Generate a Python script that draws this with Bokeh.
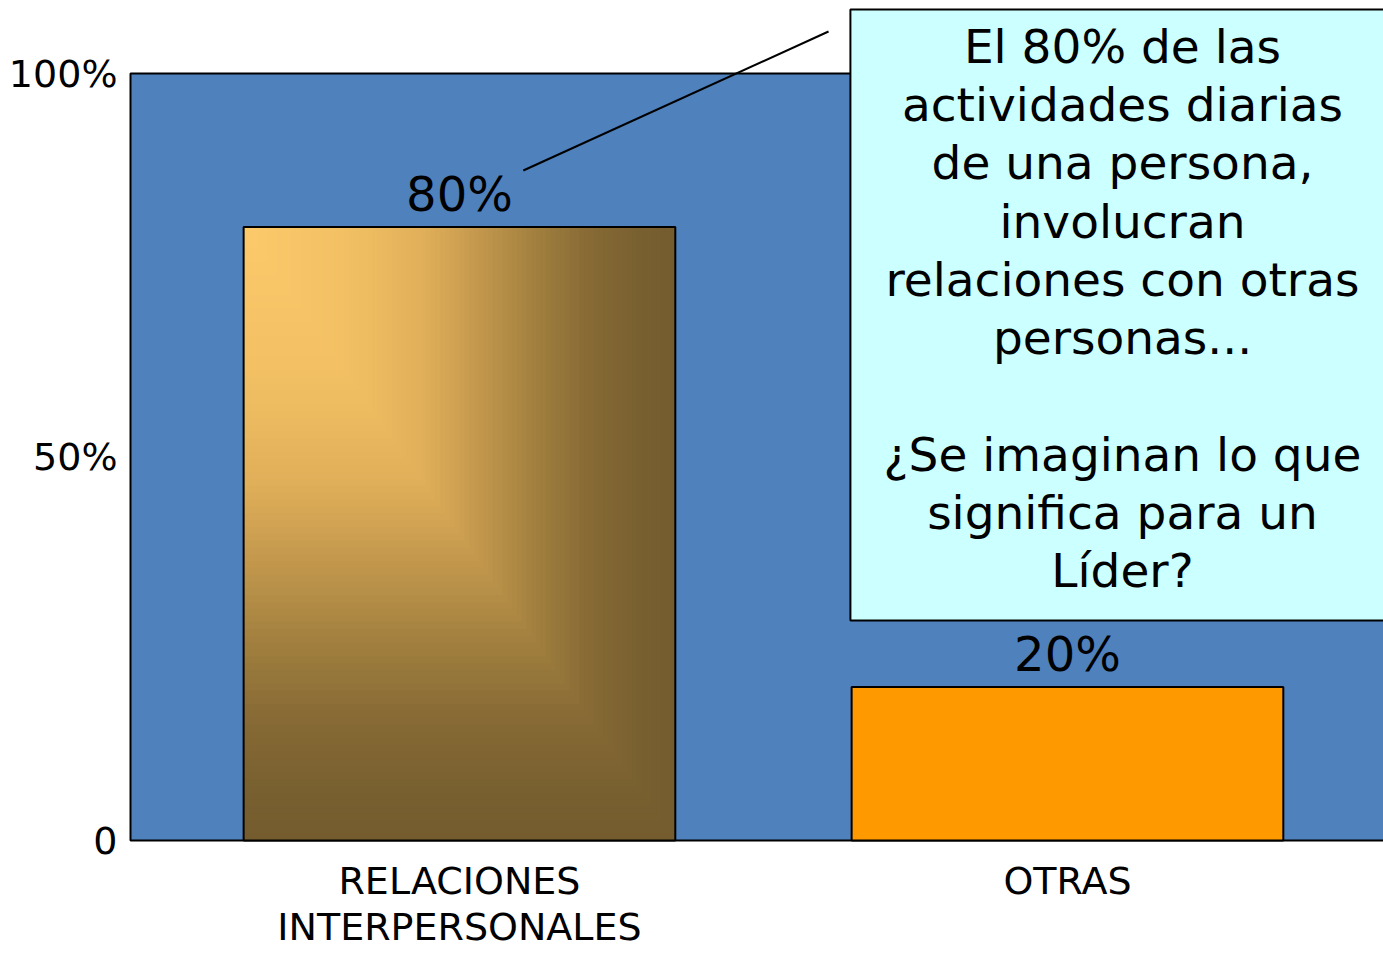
from bokeh.plotting import figure
from bokeh.models import FixedTicker, Range1d
from bokeh.core.properties import value
from bokeh.embed import file_html
from bokeh.resources import INLINE

# ---------------- data ----------------
categories = ["RELACIONES\nINTERPERSONALES", "OTRAS"]
shares = [0.80, 0.20]
bar_labels = ["80%", "20%"]
y_ticks = [0, 0.5, 1.0]
y_tick_labels = ["0", "50%", "100%"]
callout_lines = [
    "El 80% de las",
    "actividades diarias",
    "de una persona,",
    "involucran",
    "relaciones con otras",
    "personas...",
    "",
    "¿Se imaginan lo que",
    "significa para un",
    "Líder?",
]

# ---------------- layout / style ----------------
FONT = "DejaVu Sans"
W, H = 1383, 953
BL, BB = 127, 110               # left / bottom borders
FRAME_W, FRAME_H = W - BL, H - BB
PX_X, PX_Y = 608.0, 767.0       # pixels per category step / per 100 %
x0 = -0.546
x1 = x0 + FRAME_W / PX_X
y0 = -3.0 / PX_Y
y1 = y0 + FRAME_H / PX_Y
BAR_W = 0.71
BLUE = "#4F81BD"
ORANGE = "#FF9900"
CYAN = "#CCFFFF"

p = figure(width=W, height=H, x_range=Range1d(x0, x1), y_range=Range1d(y0, y1),
           output_backend="svg", toolbar_location=None,
           min_border_left=BL, min_border_right=0, min_border_top=0, min_border_bottom=BB)
p.background_fill_color = "white"
p.border_fill_color = "white"
p.outline_line_color = None
p.grid.visible = False

# plot area (blue wall with black border)
area_left = x0 + 3.0 / PX_X
p.quad(left=[area_left], right=[x1 + 1], bottom=[0], top=[1.0],
       fill_color=BLUE, line_color="black", line_width=2)

xs = list(range(len(categories)))

# bar 1: corner gradient built from nested rectangles anchored at the top-left corner
stops = [(0.0, (252, 202, 106)), (0.25, (242, 192, 99)), (0.42, (225, 175, 89)),
         (0.55, (195, 152, 77)), (0.68, (162, 128, 63)), (0.8, (136, 107, 53)),
         (0.92, (121, 96, 48)), (1.0, (116, 92, 47))]


def grad_color(t):
    for (ta, ca), (tb, cb) in zip(stops[:-1], stops[1:]):
        if t <= tb:
            f = (t - ta) / (tb - ta) if tb > ta else 0
            c = [int(round(a + (b - a) * f)) for a, b in zip(ca, cb)]
            return "#%02x%02x%02x" % tuple(c)
    return "#%02x%02x%02x" % stops[-1][1]


N = 90
bx, bh = xs[0], shares[0]
gl, gr, gt = [], [], []
gb, gc = [], []
for k in range(N, 0, -1):
    t = k / N
    gl.append(bx - BAR_W / 2)
    gr.append(bx - BAR_W / 2 + BAR_W * t)
    gt.append(bh)
    gb.append(bh - bh * t)
    gc.append(grad_color(t))
p.quad(left=gl, right=gr, top=gt, bottom=gb, fill_color=gc, line_color=None)

# bar 2 solid orange, bar outlines
p.vbar(x=[xs[1]], top=[shares[1]], bottom=0, width=BAR_W, fill_color=ORANGE,
       line_color="black", line_width=2)
p.vbar(x=[xs[0]], top=[shares[0]], bottom=0, width=BAR_W, fill_color=None,
       line_color="black", line_width=2)

# value labels
p.text(x=xs, y=shares, text=bar_labels, text_font=value(FONT), text_font_size="48px",
       text_align="center", text_baseline="middle", y_offset=-33, text_color="black")

# callout leader line
p.segment(x0=[0.105], y0=[0.8735], x1=[0.607], y1=[1.0548], line_color="black", line_width=2)

# callout box
p.quad(left=[0.643], right=[x1 + 1], bottom=[0.2868], top=[1.0834],
       fill_color=CYAN, line_color="black", line_width=2)
p.text(x=[1.0905], y=[0.6936], text=["\n".join(callout_lines)], text_font=value(FONT),
       text_font_size="47px", text_align="center", text_baseline="middle",
       text_line_height=1.06, text_color="black")

# axes
p.yaxis.ticker = FixedTicker(ticks=y_ticks)
p.yaxis.major_label_overrides = {t: s for t, s in zip(y_ticks, y_tick_labels)}
p.xaxis.ticker = FixedTicker(ticks=xs)
p.xaxis.major_label_overrides = {x: c for x, c in zip(xs, categories)}
for ax in (p.xaxis, p.yaxis):
    ax.axis_line_color = None
    ax.major_tick_line_color = None
    ax.minor_tick_line_color = None
    ax.major_label_text_font = FONT
    ax.major_label_text_font_size = "38px"
    ax.major_label_text_color = "black"
p.yaxis.major_label_standoff = 4
p.xaxis.major_label_standoff = 9
p.xaxis.major_label_text_line_height = 1.06

open("out.html", "w").write(file_html(p, INLINE))
